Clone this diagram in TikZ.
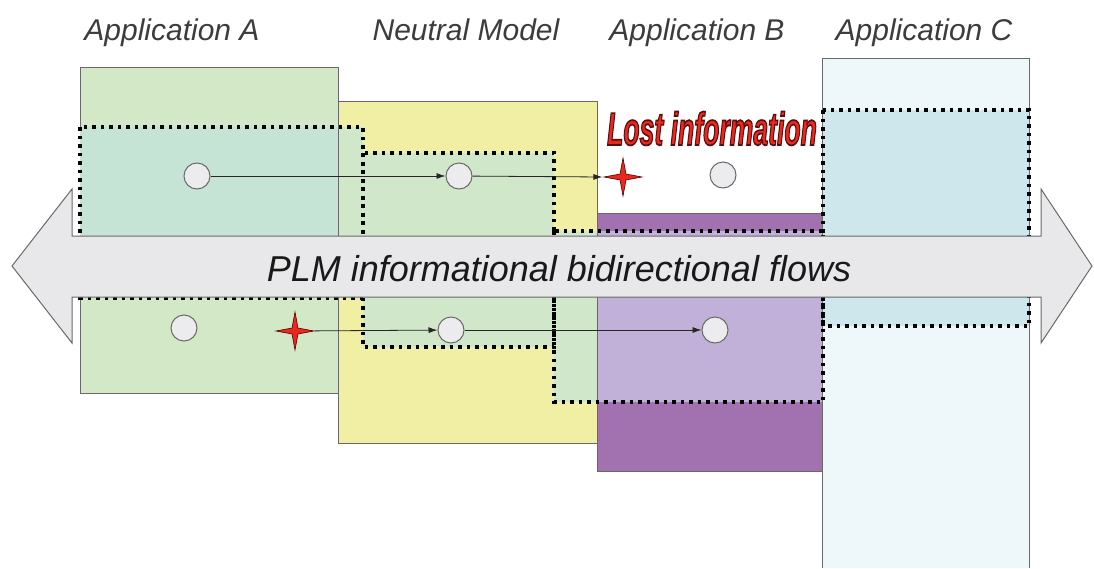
\documentclass[tikz,border=0pt]{standalone}
\usepackage{fontspec}
\setmainfont{Liberation Sans}
\usetikzlibrary{arrows.meta,shapes.geometric}
\definecolor{appA}{RGB}{210,232,198}
\definecolor{appAov}{RGB}{197,228,214}
\definecolor{neutral}{RGB}{240,239,163}
\definecolor{neutralov}{RGB}{209,231,201}
\definecolor{purpleB}{RGB}{161,113,176}
\definecolor{purpleov}{RGB}{193,176,216}
\definecolor{appC}{RGB}{238,247,249}
\definecolor{appCov}{RGB}{206,231,236}
\definecolor{band}{RGB}{232,232,234}
\definecolor{edge}{RGB}{105,105,105}
\definecolor{ptfill}{RGB}{236,236,238}
\definecolor{starred}{RGB}{235,40,30}
\definecolor{titlegray}{RGB}{60,60,60}
\newcommand\lostinfotext{\scalebox{0.70}[1.22]{\fontsize{38}{40}\selectfont\bfseries\itshape\special{pdf:literal direct 2 Tr 1.4 w 0.35 0.05 0.05 RG}Lost information\special{pdf:literal direct 0 Tr}}}
\begin{document}
\begin{tikzpicture}[x=1pt,y=-1pt,
  appbox/.style={draw=edge,line width=1pt},
  dotbox/.style={draw=black,line width=3.3pt,dash pattern=on 3.5pt off 5pt},
  pt/.style={circle,draw=edge,fill=ptfill,line width=1pt,minimum size=26pt,inner sep=0pt},
  lossstar/.style={star,star points=4,star point ratio=4.5,minimum size=38pt,inner sep=0pt,fill=starred,draw=black!70!red,line width=0.6pt},
  conn/.style={draw=black!85,line width=0.8pt,-{Latex[length=9pt,width=6pt]}},
  title/.style={anchor=base,text=titlegray,font=\fontsize{30}{34}\selectfont\itshape},
  flowtext/.style={anchor=base,text=black!90,font=\fontsize{36}{40}\selectfont\itshape}]
\useasboundingbox (0,0) rectangle (1094,568);
\fill[white] (0,0) rectangle (1094,568);
% base application areas
\fill[appC] (822,58) rectangle (1029,568);
\draw[appbox] (822,568) -- (822,58) -- (1029,58) -- (1029,568);
\filldraw[appbox,fill=appA] (80,67) rectangle (338,393);
\filldraw[appbox,fill=neutral] (338,101) rectangle (597,443);
\filldraw[appbox,fill=purpleB] (597,213) rectangle (822,471);
% overlays of the mapped information sets
\fill[appAov] (80,127) rectangle (338,298);
\fill[neutralov] (338,127) rectangle (363,298);
\fill[neutralov] (363,153) rectangle (554,347);
\fill[neutralov] (554,231) rectangle (597,402);
\fill[purpleov] (597,231) rectangle (822,402);
\fill[appCov] (823,110) rectangle (1029,326);
\draw[edge,line width=1pt] (338,127) -- (338,393);
\draw[edge,line width=1pt] (597,231) -- (597,443);
% dotted boundaries
\draw[dotbox] (80,127) rectangle (363,298);
\draw[dotbox] (363,153) rectangle (554,347);
\draw[dotbox] (554,231) rectangle (823,402);
\draw[dotbox] (823,110) rectangle (1029,326);
% bidirectional arrow band
\filldraw[draw=edge,line width=1pt,fill=band]
  (72,236) -- (1041,236) -- (1041,189) -- (1092,266) -- (1041,343) -- (1041,297)
  -- (72,297) -- (72,343) -- (12,266) -- (72,189) -- cycle;
\node[flowtext] (flow) at (559,281) {PLM informational bidirectional flows};
% titles
\node[title] (tA) at (172,40) {Application A};
\node[title] (tN) at (466,40) {Neutral Model};
\node[title] (tB) at (697,40) {Application B};
\node[title] (tC) at (924,40) {Application C};
% lost information label
\node[anchor=base,text=starred] (lost) at (712,145) {\lostinfotext};
% information points
\node[pt] (ua) at (197,176) {};
\node[pt] (un) at (459,176) {};
\node[pt] (ub) at (723,175) {};
\node[lossstar] (us) at (623,177) {};
\node[pt] (la) at (184,328) {};
\node[lossstar] (ls) at (295,331) {};
\node[pt] (ln) at (451,330) {};
\node[pt] (lb) at (715,330) {};
% flows
\draw[conn] (ua) -- (un);
\draw[conn] (un) -- (us.west);
\draw[conn] (ls) -- (ln);
\draw[conn] (ln) -- (lb);
\end{tikzpicture}
\end{document}
